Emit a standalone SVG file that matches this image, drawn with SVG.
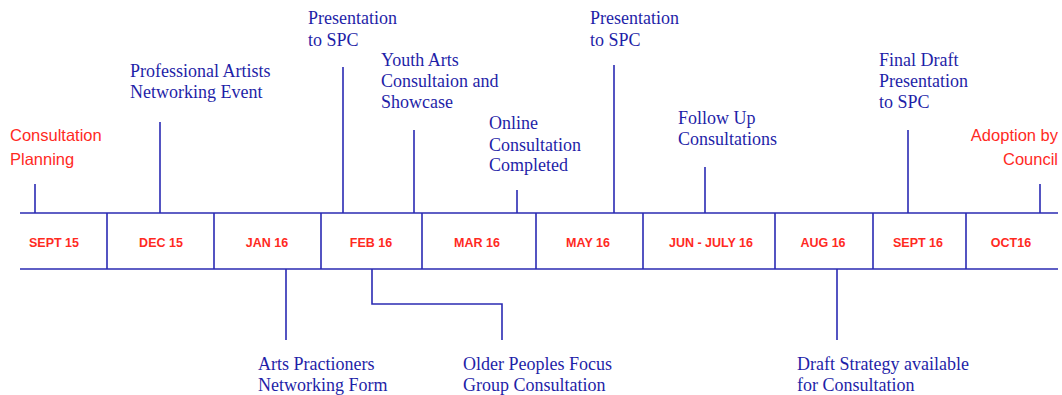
<svg xmlns="http://www.w3.org/2000/svg" width="1062" height="395" viewBox="0 0 1062 395">
<style>
.ln{stroke:#2b2bb3;stroke-width:1.6;fill:none}
.ev{font-family:"Liberation Serif",serif;font-size:18px;fill:#1f1fa8}
.red{font-family:"Liberation Sans",sans-serif;font-size:16.5px;fill:#ff2a1f}
.dt{font-family:"Liberation Sans",sans-serif;font-size:12.5px;font-weight:bold;fill:#ff2a1f;text-anchor:middle}
</style>
<rect width="1062" height="395" fill="#ffffff"/>
<g id="connectors">
<path class="ln" d="M20 213H1058M20 269H1058"/>
<path class="ln" d="M107 213V269M214 213V269M321 213V269M422 213V269M536 213V269M643 213V269M775 213V269M873 213V269M966 213V269"/>
<path class="ln" d="M35 184V213M160 122V213M343 67V213M414 130V213M517 190V213M614 65V213M705 167V213M908 130V213M1040 184V213"/>
<path class="ln" d="M286 269V340M372 269V304H502V340M837 269V340"/>
</g>
<g id="dates">
<text class="dt" x="54" y="247">SEPT 15</text>
<text class="dt" x="161" y="247">DEC 15</text>
<text class="dt" x="267" y="247">JAN 16</text>
<text class="dt" x="371" y="247">FEB 16</text>
<text class="dt" x="477" y="247">MAR 16</text>
<text class="dt" x="588" y="247">MAY 16</text>
<text class="dt" x="711" y="247">JUN - JULY 16</text>
<text class="dt" x="823" y="247">AUG 16</text>
<text class="dt" x="918" y="247">SEPT 16</text>
<text class="dt" x="1011" y="247">OCT16</text>
</g>
<g id="consultation-planning"><text class="red" x="10" y="141">Consultation</text><text class="red" x="10" y="165">Planning</text></g>
<g id="professional-artists"><text class="ev" x="130" y="77">Professional Artists</text><text class="ev" x="130" y="98">Networking Event</text></g>
<g id="presentation-1"><text class="ev" x="308" y="24">Presentation</text><text class="ev" x="308" y="46">to SPC</text></g>
<g id="youth-arts"><text class="ev" x="381" y="66">Youth Arts</text><text class="ev" x="381" y="87">Consultaion and</text><text class="ev" x="381" y="108">Showcase</text></g>
<g id="online"><text class="ev" x="489" y="129">Online</text><text class="ev" x="489" y="151">Consultation</text><text class="ev" x="489" y="171">Completed</text></g>
<g id="presentation-2"><text class="ev" x="590" y="24">Presentation</text><text class="ev" x="590" y="46">to SPC</text></g>
<g id="follow-up"><text class="ev" x="678" y="124">Follow Up</text><text class="ev" x="678" y="145">Consultations</text></g>
<g id="final-draft"><text class="ev" x="879" y="66">Final Draft</text><text class="ev" x="879" y="87">Presentation</text><text class="ev" x="879" y="108">to SPC</text></g>
<g id="adoption"><text class="red" x="1058" y="141" text-anchor="end">Adoption by</text><text class="red" x="1058" y="165" text-anchor="end">Council</text></g>
<g id="arts-practioners"><text class="ev" x="258" y="370">Arts Practioners</text><text class="ev" x="258" y="391">Networking Form</text></g>
<g id="older-peoples"><text class="ev" x="463" y="370">Older Peoples Focus</text><text class="ev" x="463" y="391">Group Consultation</text></g>
<g id="draft-strategy"><text class="ev" x="797" y="370">Draft Strategy available</text><text class="ev" x="797" y="391">for Consultation</text></g>
</svg>
